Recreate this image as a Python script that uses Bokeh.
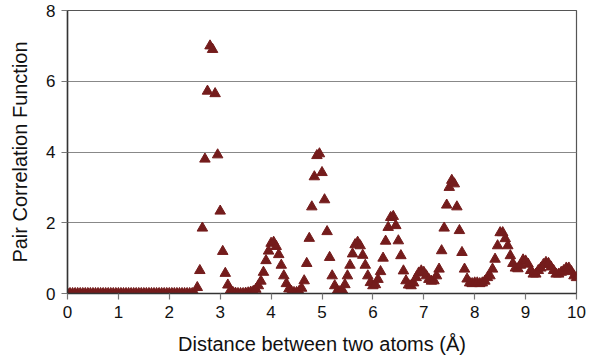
from bokeh.plotting import figure
from bokeh.models import ColumnDataSource, FixedTicker, Range1d
from bokeh.embed import file_html
from bokeh.resources import INLINE

distance = [round(i * 0.05, 2) for i in range(201)]
g_r = [0.0] * 51 + [
    0.17, 0.65, 1.85, 3.80, 5.72, 7.00, 6.90, 5.65, 3.92, 2.33,   # 2.55-3.00
    1.19, 0.57, 0.24, 0.09, 0.03, 0.01, 0.00, 0.00, 0.00, 0.01,   # 3.05-3.50
    0.02, 0.04, 0.06, 0.12, 0.22, 0.35, 0.60, 0.93, 1.20, 1.42,   # 3.55-4.00
    1.45, 1.33, 1.10, 0.80, 0.50, 0.28, 0.13, 0.06, 0.03, 0.03,   # 4.05-4.50
    0.06, 0.15, 0.36, 0.85, 1.56, 2.45, 3.30, 3.90, 3.95, 3.42,   # 4.55-5.00
    2.65, 1.75, 1.02, 0.50, 0.22, 0.08, 0.05, 0.10, 0.25, 0.50,   # 5.05-5.50
    0.80, 1.12, 1.38, 1.45, 1.35, 1.08, 0.80, 0.50, 0.31, 0.22,   # 5.55-6.00
    0.25, 0.40, 0.62, 1.00, 1.48, 1.87, 2.15, 2.18, 1.92, 1.49,   # 6.05-6.50
    1.07, 0.64, 0.36, 0.24, 0.22, 0.30, 0.45, 0.58, 0.64, 0.60,   # 6.55-7.00
    0.50, 0.40, 0.35, 0.36, 0.50, 0.69, 1.21, 1.85, 2.50, 3.00,   # 7.05-7.50
    3.20, 3.10, 2.45, 1.78, 1.16, 0.69, 0.41, 0.30, 0.28, 0.30,   # 7.55-8.00
    0.30, 0.28, 0.30, 0.35, 0.45, 0.50, 0.69, 0.97, 1.35, 1.72,   # 8.05-8.50
    1.72, 1.55, 1.35, 1.07, 0.85, 0.72, 0.70, 0.80, 0.95, 0.92,   # 8.55-9.00
    0.83, 0.65, 0.55, 0.55, 0.65, 0.72, 0.82, 0.88, 0.85, 0.75,   # 9.05-9.50
    0.65, 0.55, 0.55, 0.60, 0.65, 0.72, 0.72, 0.62, 0.50, 0.45,   # 9.55-10.00
]
x_ticks = list(range(0, 11))
y_ticks = [0, 2, 4, 6, 8]

src = ColumnDataSource(dict(x=distance, y=g_r))

p = figure(width=592, height=363, output_backend="svg", toolbar_location=None,
           x_range=Range1d(0, 10), y_range=Range1d(0, 8),
           min_border_left=67, min_border_right=16, min_border_top=10, min_border_bottom=70)

p.scatter("x", "y", source=src, marker="triangle", size=10.5,
          fill_color="#741c1c", line_color="#741c1c")

font = "Liberation Sans"
for ax in (p.xaxis[0], p.yaxis[0]):
    ax.major_label_text_font = font
    ax.major_label_text_font_size = "17px"
    ax.major_label_text_color = "#111111"
    ax.axis_label_text_font = font
    ax.axis_label_text_font_size = "20px"
    ax.axis_label_text_font_style = "normal"
    ax.axis_label_text_color = "#111111"
    ax.axis_line_color = "#333333"
    ax.axis_line_width = 1.5
    ax.major_tick_line_color = "#777777"
    ax.major_tick_line_width = 1.2
    ax.major_tick_out = 6
    ax.major_tick_in = 0
    ax.minor_tick_line_color = None
    ax.major_label_standoff = 6

p.xaxis[0].ticker = FixedTicker(ticks=x_ticks)
p.yaxis[0].ticker = FixedTicker(ticks=y_ticks)
p.xaxis[0].axis_label = "Distance between two atoms (Å)"
p.yaxis[0].axis_label = "Pair Correlation Function"
p.xaxis[0].axis_label_standoff = 12
p.yaxis[0].axis_label_standoff = 12

p.xgrid.grid_line_color = None
p.ygrid.grid_line_color = "#888888"
p.ygrid.grid_line_width = 1.2

p.outline_line_color = "#555555"
p.outline_line_width = 1.2
p.background_fill_color = "white"
p.border_fill_color = "white"

open("out.html", "w").write(file_html(p, INLINE))
